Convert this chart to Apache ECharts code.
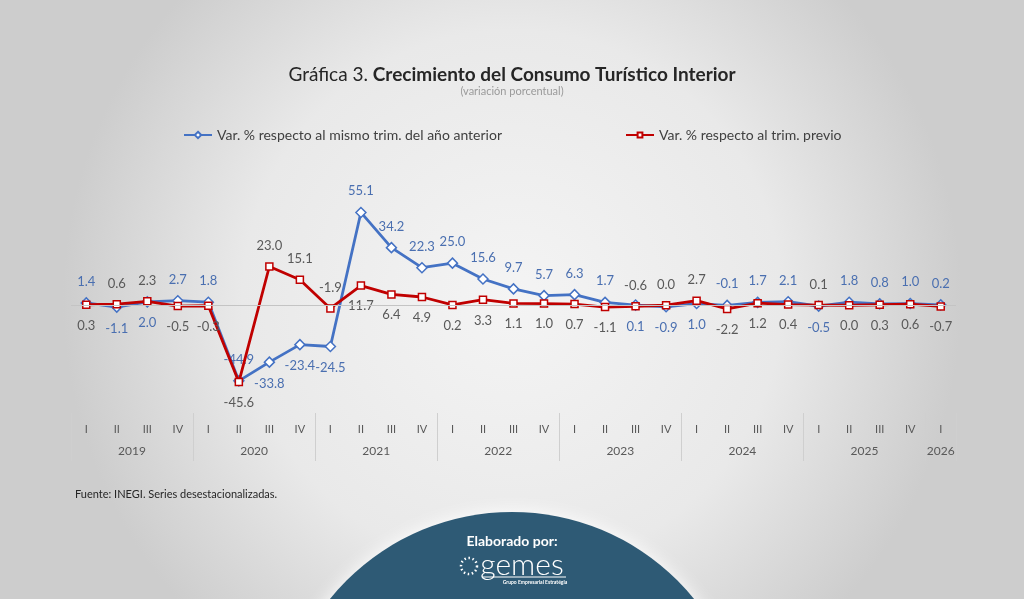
<!DOCTYPE html>
<html>
<head>
<meta charset="utf-8">
<script src="https://cdn.jsdelivr.net/npm/echarts@6.0.0/dist/echarts.min.js"></script>
<style>
    html, body { margin: 0; padding: 0; }
    #chart { width: 1024px; height: 599px; }
</style>
</head>
<body>
<div id="chart"></div>
<script>
// Data
const quarters = ['I','II','III','IV','I','II','III','IV','I','II','III','IV','I','II','III','IV',
    'I','II','III','IV','I','II','III','IV','I','II','III','IV','I'];
const years = ['2019','2020','2021','2022','2023','2024','2025','2026'];
const annualVar = [1.4,-1.1,2.0,2.7,1.8,-44.9,-33.8,-23.4,-24.5,55.1,34.2,22.3,25.0,15.6,9.7,5.7,
    6.3,1.7,0.1,-0.9,1.0,-0.1,1.7,2.1,-0.5,1.8,0.8,1.0,0.2];
const quarterlyVar = [0.3,0.6,2.3,-0.5,-0.3,-45.6,23.0,15.1,-1.9,11.7,6.4,4.9,0.2,3.3,1.1,1.0,
    0.7,-1.1,-0.6,0.0,2.7,-2.2,1.2,0.4,0.1,0.0,0.3,0.6,-0.7];
const seriesNames = ['Var. % respecto al mismo trim. del año anterior', 'Var. % respecto al trim. previo'];

// Styles
const COLORS = {
    blue: '#4472C4',
    blueLabel: '#4a6fb0',
    red: '#C00000',
    grayLabel: '#595959',
    text: '#404040'
};
const FONT = 'Lato, "Open Sans", sans-serif';
// points where the label sides are swapped in the original
const swapLabels = [18];

// year centre positions on the quarter axis
const yearCenters = (() => {
    const idx = [];
    let y = -1;
    quarters.forEach(q => { if (q === 'I') y++; idx.push(y); });
    return years.map((name, k) => {
        const members = idx.map((v, i) => v === k ? i : -1).filter(i => i >= 0);
        return { name, pos: (members[0] + members[members.length - 1]) / 2 };
    });
})();

function labelSide(i, mine, other) {
    let top = mine[i] >= other[i];
    if (swapLabels.includes(i)) top = !top;
    return top ? 'top' : 'bottom';
}

const chart = echarts.init(document.getElementById('chart'), null, { renderer: 'canvas' });

const option = {
    backgroundColor: {
        type: 'radial', x: 0.5, y: 0.5, r: 0.75,
        colorStops: [{ offset: 0, color: '#f4f4f4' }, { offset: 0.6, color: '#e9e9e9' }, { offset: 1, color: '#cdcdcd' }]
    },
    textStyle: { fontFamily: FONT },
    title: [{
        text: '{a|Gráfica 3. }{b|Crecimiento del Consumo Turístico Interior}',
        subtext: '(variación porcentual)',
        left: 'center',
        top: 60,
        itemGap: 2,
        textStyle: {
            fontWeight: 'normal',
            rich: {
                a: { fontFamily: FONT, fontSize: 19, fontWeight: 'normal', color: '#262626' },
                b: { fontFamily: FONT, fontSize: 19, fontWeight: 'bold', color: '#262626' }
            }
        },
        subtextStyle: { fontFamily: FONT, fontSize: 11, color: '#9a9a9a' }
    }, {
        text: 'Fuente: INEGI. Series desestacionalizadas.',
        left: 70,
        top: 484,
        textStyle: { fontFamily: FONT, fontSize: 11, fontWeight: 'normal', color: '#262626' }
    }],
    legend: [{
        data: [seriesNames[0]],
        left: 178, top: 123,
        itemWidth: 28, itemHeight: 8, itemGap: 4,
        textStyle: { fontFamily: FONT, fontSize: 14, color: COLORS.text }
    }, {
        data: [seriesNames[1]],
        left: 620, top: 123,
        itemWidth: 28, itemHeight: 6, itemGap: 4,
        textStyle: { fontFamily: FONT, fontSize: 14, color: COLORS.text }
    }],
    grid: { left: 71, right: 68, top: 184, bottom: 186 },
    xAxis: [{
        type: 'category',
        data: quarters,
        boundaryGap: true,
        axisLine: { show: false, onZero: false },
        axisTick: {
            show: true,
            length: 48,
            interval: (i) => i % 4 === 0,
            lineStyle: { color: '#cfcfcf' }
        },
        axisLabel: { interval: 0, margin: 11, fontFamily: FONT, fontSize: 11, color: COLORS.grayLabel }
    }, {
        type: 'value',
        position: 'bottom',
        offset: 21,
        min: -0.5, max: quarters.length - 0.5, interval: 0.5,
        axisLine: { show: false },
        axisTick: { show: false },
        splitLine: { show: false },
        axisLabel: {
            margin: 11,
            fontFamily: FONT, fontSize: 12, color: COLORS.grayLabel,
            showMinLabel: true, showMaxLabel: true,
            formatter: (v) => {
                const hit = yearCenters.find(y => Math.abs(y.pos - v) < 0.01);
                return hit ? hit.name : '';
            }
        }
    }],
    yAxis: {
        type: 'value',
        min: -64, max: 72,
        show: false
    },
    series: [{
        name: seriesNames[0],
        type: 'line',
        xAxisIndex: 0,
        data: annualVar.map((v, i) => ({ value: v, label: { position: labelSide(i, annualVar, quarterlyVar) } })),
        symbol: 'diamond',
        symbolSize: 10,
        lineStyle: { color: COLORS.blue, width: 2.8 },
        itemStyle: { color: '#ffffff', borderColor: COLORS.blue, borderWidth: 1.5 },
        label: {
            show: true, distance: 9,
            fontFamily: FONT, fontSize: 13, color: COLORS.blueLabel,
            formatter: (p) => p.value.toFixed(1)
        },
        markLine: {
            silent: true,
            symbol: 'none',
            label: { show: false },
            lineStyle: { color: '#c4c4c4', width: 1, type: 'solid' },
            data: [{ yAxis: 0 }]
        },
        z: 2
    }, {
        name: seriesNames[1],
        type: 'line',
        xAxisIndex: 0,
        data: quarterlyVar.map((v, i) => ({ value: v, label: { position: labelSide(i, quarterlyVar, annualVar) } })),
        symbol: 'rect',
        symbolSize: 7,
        lineStyle: { color: COLORS.red, width: 2.8 },
        itemStyle: { color: '#ffffff', borderColor: COLORS.red, borderWidth: 1.5 },
        label: {
            show: true, distance: 10,
            fontFamily: FONT, fontSize: 13, color: COLORS.grayLabel,
            formatter: (p) => p.value.toFixed(1)
        },
        z: 3
    }],
    graphic: [{
        type: 'circle',
        shape: { cx: 512, cy: 746, r: 234 },
        style: { fill: '#2e5a75', shadowBlur: 18, shadowColor: 'rgba(255,255,255,0.95)' },
        z: 1
    }, {
        type: 'text',
        x: 512, y: 541,
        style: { text: 'Elaborado por:', fill: '#ffffff', font: 'bold 14px ' + FONT, textAlign: 'center', textVerticalAlign: 'middle' },
        z: 2
    }, {
        type: 'circle',
        shape: { cx: 469, cy: 566, r: 8 },
        style: { fill: 'none', stroke: '#ffffff', lineWidth: 2.5, lineDash: [1.5, 2.6] },
        z: 2
    }, {
        type: 'text',
        x: 522, y: 565,
        style: { text: 'gemes', fill: '#ffffff', font: '300 30px ' + FONT, textAlign: 'center', textVerticalAlign: 'middle' },
        z: 2
    }, {
        type: 'line',
        shape: { x1: 482, y1: 577, x2: 566, y2: 577 },
        style: { stroke: '#ffffff', lineWidth: 1 },
        z: 2
    }, {
        type: 'text',
        x: 535, y: 582,
        style: { text: 'Grupo Empresarial Estratégia', fill: '#ffffff', font: 'bold 5px ' + FONT, textAlign: 'center', textVerticalAlign: 'middle' },
        z: 2
    }]
};

chart.setOption(option);
console.log('done', new Date());
</script>
</body>
</html>
